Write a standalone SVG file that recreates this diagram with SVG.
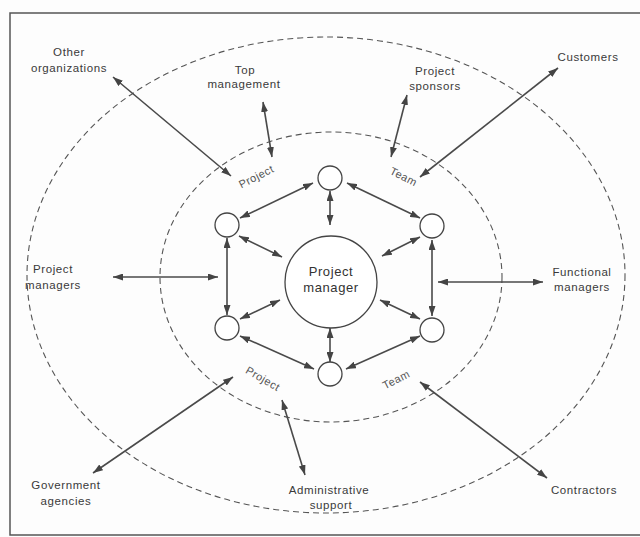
<svg xmlns="http://www.w3.org/2000/svg" width="640" height="537" viewBox="0 0 640 537">
<style>
.bg{fill:#fdfdfd}
.frame{fill:none;stroke:#555;stroke-width:1.5}
.ring{fill:none;stroke:#555;stroke-width:1.1;stroke-dasharray:6 4}
.node{fill:#fff;stroke:#444;stroke-width:1.3}
.arr{fill:none;stroke:#4a4a4a;stroke-width:1.6;marker-start:url(#ah);marker-end:url(#ah)}
.lbl{font-family:"Liberation Sans",Arial,sans-serif;font-size:11.5px;fill:#3a3a3a;text-anchor:middle;letter-spacing:0.6px}
.rot{font-family:"Liberation Sans",Arial,sans-serif;font-size:11px;fill:#555;text-anchor:middle;letter-spacing:0.5px}
.pm{font-family:"Liberation Sans",Arial,sans-serif;font-size:13px;fill:#333;text-anchor:middle;letter-spacing:0.6px}
</style>
<defs>
<marker id="ah" viewBox="0 0 10 7" refX="10" refY="3.5" markerWidth="10" markerHeight="7" markerUnits="userSpaceOnUse" orient="auto-start-reverse">
<path d="M0,0 L10,3.5 L0,7 z" fill="#444"/>
</marker>
</defs>
<rect class="bg" x="0" y="0" width="640" height="537"/>
<rect class="frame" x="10" y="13" width="640" height="522"/>
<g id="rings">
<ellipse class="ring" cx="326" cy="275" rx="299" ry="238"/>
<ellipse class="ring" cx="331" cy="277" rx="171" ry="145"/>
</g>
<g id="connectors">
<line class="arr" x1="113" y1="77" x2="231" y2="176"/>
<line class="arr" x1="263" y1="102" x2="272" y2="157"/>
<line class="arr" x1="407" y1="95" x2="391" y2="157"/>
<line class="arr" x1="558" y1="68" x2="420" y2="177"/>
<line class="arr" x1="113" y1="277" x2="218" y2="277"/>
<line class="arr" x1="438" y1="282" x2="543" y2="282"/>
<line class="arr" x1="93" y1="473" x2="233" y2="377"/>
<line class="arr" x1="282" y1="400" x2="305" y2="475"/>
<line class="arr" x1="420" y1="382" x2="547" y2="478"/>
<line class="arr" x1="313" y1="183" x2="240" y2="218"/>
<line class="arr" x1="347" y1="183" x2="420" y2="218"/>
<line class="arr" x1="330" y1="191" x2="330" y2="225"/>
<line class="arr" x1="239" y1="236" x2="282" y2="257"/>
<line class="arr" x1="227" y1="238" x2="227" y2="315"/>
<line class="arr" x1="240" y1="319" x2="280" y2="300"/>
<line class="arr" x1="240" y1="336" x2="314" y2="369"/>
<line class="arr" x1="330" y1="328" x2="330" y2="362"/>
<line class="arr" x1="346" y1="369" x2="420" y2="336"/>
<line class="arr" x1="380" y1="300" x2="420" y2="319"/>
<line class="arr" x1="382" y1="256" x2="420" y2="237"/>
<line class="arr" x1="432" y1="240" x2="432" y2="316"/>
</g>
<g id="project-manager">
<circle class="node" cx="331" cy="282" r="46"/>
<text class="pm" x="331" y="276">Project</text>
<text class="pm" x="331" y="292">manager</text>
</g>
<g id="team-top"><circle class="node" cx="330" cy="178" r="12"/></g>
<g id="team-upper-left"><circle class="node" cx="227" cy="225" r="12"/></g>
<g id="team-upper-right"><circle class="node" cx="432" cy="226" r="12"/></g>
<g id="team-lower-left"><circle class="node" cx="227" cy="328" r="12"/></g>
<g id="team-lower-right"><circle class="node" cx="432" cy="330" r="12"/></g>
<g id="team-bottom"><circle class="node" cx="330" cy="374" r="12"/></g>
<g id="ring-labels">
<text class="rot" transform="translate(258,180) rotate(-27)">Project</text>
<text class="rot" transform="translate(402,180) rotate(27)">Team</text>
<text class="rot" transform="translate(261,382) rotate(30)">Project</text>
<text class="rot" transform="translate(398,383) rotate(-27)">Team</text>
</g>
<g id="other-organizations">
<text class="lbl" x="69" y="56">Other</text>
<text class="lbl" x="69" y="72">organizations</text>
</g>
<g id="top-management">
<text class="lbl" x="245" y="74">Top</text>
<text class="lbl" x="244" y="88">management</text>
</g>
<g id="project-sponsors">
<text class="lbl" x="435" y="75">Project</text>
<text class="lbl" x="435" y="90">sponsors</text>
</g>
<g id="customers">
<text class="lbl" x="588" y="61">Customers</text>
</g>
<g id="project-managers">
<text class="lbl" x="53" y="273">Project</text>
<text class="lbl" x="53" y="289">managers</text>
</g>
<g id="functional-managers">
<text class="lbl" x="582" y="276">Functional</text>
<text class="lbl" x="582" y="291">managers</text>
</g>
<g id="government-agencies">
<text class="lbl" x="66" y="489">Government</text>
<text class="lbl" x="66" y="505">agencies</text>
</g>
<g id="administrative-support">
<text class="lbl" x="329" y="494">Administrative</text>
<text class="lbl" x="331" y="509">support</text>
</g>
<g id="contractors">
<text class="lbl" x="584" y="494">Contractors</text>
</g>
</svg>
